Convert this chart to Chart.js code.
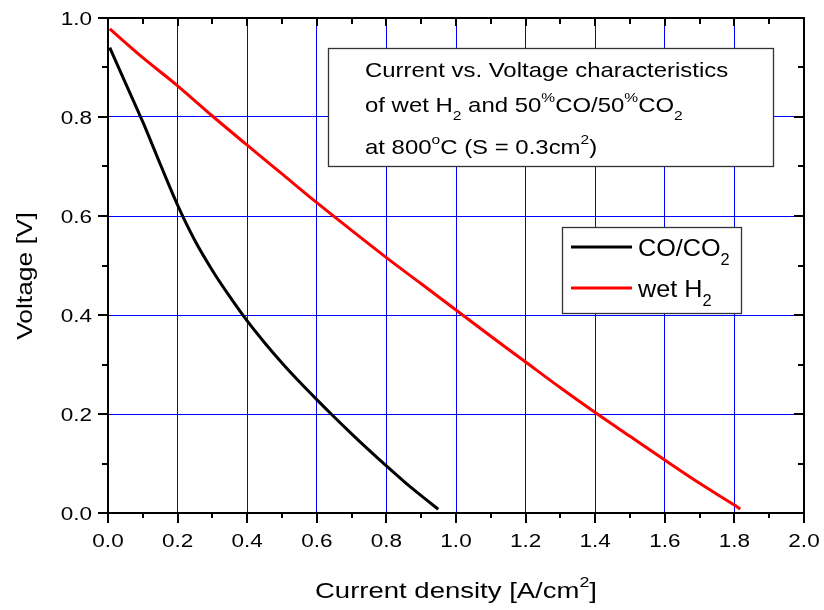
<!DOCTYPE html>
<html>
<head>
<meta charset="utf-8">
<script src="https://cdn.jsdelivr.net/npm/chart.js@4.4.1/dist/chart.umd.min.js"></script>
<style>
  html, body { margin: 0; padding: 0; background: #fff; }
</style>
</head>
<body>
<canvas id="ivChart" width="824" height="610"></canvas>
<script>
// CO/CO2 fuel (black curve)
const currentCO = [0.005, 0.05, 0.1, 0.15, 0.2, 0.25, 0.3, 0.35, 0.4, 0.45, 0.5, 0.55, 0.6, 0.65, 0.7, 0.75, 0.8, 0.85, 0.9, 0.949];
const voltageCO = [0.94, 0.869, 0.79, 0.705, 0.622, 0.55, 0.49, 0.437, 0.388, 0.344, 0.303, 0.265, 0.229, 0.194, 0.16, 0.127, 0.095, 0.064, 0.035, 0.0075];

// wet H2 fuel (red curve)
const currentH2 = [0.005, 0.1, 0.2, 0.3, 0.4, 0.5, 0.6, 0.7, 0.8, 0.9, 1.0, 1.1, 1.2, 1.3, 1.4, 1.5, 1.6, 1.7, 1.8, 1.817];
const voltageH2 = [0.978, 0.92, 0.863, 0.802, 0.743, 0.685, 0.627, 0.571, 0.516, 0.463, 0.41, 0.357, 0.305, 0.253, 0.203, 0.155, 0.107, 0.06, 0.016, 0.008];

const xRange = [0, 2.0];
const yRange = [0, 1.0];
const majorStepX = 0.2, majorStepY = 0.2;

// rich text pieces: [text, kind] where kind is n / sup / sub
const legendLabels = [
    [["CO/CO", "n"], ["2", "sub"]],
    [["wet H", "n"], ["2", "sub"]]
];
const noteLines = [
    [["Current vs. Voltage characteristics", "n"]],
    [["of wet H", "n"], ["2", "sub"], [" and 50", "n"], ["%", "sup"], ["CO/50", "n"], ["%", "sup"], ["CO", "n"], ["2", "sub"]],
    [["at 800", "n"], ["o", "sup"], ["C (S = 0.3cm", "n"], ["2", "sup"], [")", "n"]]
];
const xTitle = [["Current density [A/cm", "n"], ["2", "sup"], ["]", "n"]];
const yTitle = [["Voltage [V]", "n"]];

const FONT = '"Liberation Sans", Arial, sans-serif';

function partFont(kind, size) {
    const s = kind === "n" ? size : size * 0.65;
    return s + "px " + FONT;
}

function partWidth(ctx, parts, size) {
    let w = 0;
    parts.forEach(p => {
        ctx.font = partFont(p[1], size);
        w += ctx.measureText(p[0]).width;
    });
    return w;
}

// draws a line of rich text; x,y is the baseline anchor
function richText(ctx, parts, x, y, size, sx, align, angle) {
    ctx.save();
    ctx.translate(x, y);
    if (angle) ctx.rotate(angle);
    ctx.scale(sx, 1);
    ctx.fillStyle = "#000";
    ctx.textBaseline = "alphabetic";
    ctx.textAlign = "left";
    const w = partWidth(ctx, parts, size);
    let cx = align === "center" ? -w / 2 : align === "right" ? -w : 0;
    parts.forEach(p => {
        ctx.font = partFont(p[1], size);
        let dy = 0;
        if (p[1] === "sup") dy = -size * 0.48;
        if (p[1] === "sub") dy = size * 0.38;
        ctx.fillText(p[0], cx, dy);
        cx += ctx.measureText(p[0]).width;
    });
    ctx.restore();
}

const axisDecor = {
    id: "axisDecor",
    afterDatasetsDraw(chart) {
        const ctx = chart.ctx;
        const a = chart.chartArea;
        const xs = chart.scales.x, ys = chart.scales.y;
        ctx.save();
        ctx.strokeStyle = "#000";
        ctx.lineWidth = 2;
        ctx.strokeRect(a.left, a.top, a.right - a.left, a.bottom - a.top);

        ctx.beginPath();
        for (let i = 0; i <= 20; i++) {
            const v = xRange[0] + i * majorStepX / 2;
            const px = Math.round(xs.getPixelForValue(v));
            const len = i % 2 === 0 ? 10 : 5;
            ctx.moveTo(px, a.bottom); ctx.lineTo(px, a.bottom + len);
            ctx.moveTo(px, a.top); ctx.lineTo(px, a.top + (i % 2 === 0 ? 8 : 6));
        }
        for (let i = 0; i <= 10; i++) {
            const v = yRange[0] + i * majorStepY / 2;
            const py = Math.round(ys.getPixelForValue(v));
            const len = i % 2 === 0 ? 10 : 6;
            ctx.moveTo(a.left, py); ctx.lineTo(a.left - len, py);
            ctx.moveTo(a.right, py); ctx.lineTo(a.right - len, py);
        }
        ctx.stroke();
        ctx.restore();

        // tick labels from the scales
        xs.ticks.forEach(t => {
            richText(ctx, [[t.value.toFixed(1), "n"]], xs.getPixelForValue(t.value), 547, 18, 1.25, "center");
        });
        ys.ticks.forEach(t => {
            richText(ctx, [[t.value.toFixed(1), "n"]], 92, ys.getPixelForValue(t.value) + 6.5, 18, 1.25, "right");
        });

        richText(ctx, xTitle, 456, 598, 22, 1.25, "center");
        richText(ctx, yTitle, 32, 276, 22, 1.2, "center", -Math.PI / 2);
    },
    afterDraw(chart) {
        const ctx = chart.ctx;
        ctx.save();
        // note box
        ctx.fillStyle = "#fff";
        ctx.fillRect(328, 48, 445, 118);
        ctx.strokeStyle = "#333";
        ctx.lineWidth = 1.3;
        ctx.strokeRect(328.5, 48.5, 445, 118);
        // legend box
        ctx.fillRect(562, 227, 179, 86);
        ctx.strokeRect(562.5, 227.5, 179, 86);
        ctx.restore();

        const baselines = [77, 112, 154];
        noteLines.forEach((line, i) => richText(ctx, line, 365, baselines[i], 21, 1.14, "left"));

        const rowY = [247, 288];
        chart.data.datasets.forEach((ds, i) => {
            ctx.save();
            ctx.strokeStyle = ds.borderColor;
            ctx.lineWidth = 3;
            ctx.beginPath();
            ctx.moveTo(571, rowY[i]);
            ctx.lineTo(632, rowY[i]);
            ctx.stroke();
            ctx.restore();
            richText(ctx, legendLabels[i], 638, rowY[i] + 9, 24, 1.05, "left");
        });
    }
};

const toPoints = (xs, ys) => xs.map((x, i) => ({ x: x, y: ys[i] }));

const ctx = document.getElementById("ivChart").getContext("2d");
const chart = new Chart(ctx, {
    type: "line",
    data: {
        datasets: [
            {
                label: "CO/CO2",
                data: toPoints(currentCO, voltageCO),
                borderColor: "#000000",
                borderWidth: 3,
                pointRadius: 0,
                cubicInterpolationMode: "monotone",
                fill: false
            },
            {
                label: "wet H2",
                data: toPoints(currentH2, voltageH2),
                borderColor: "#ff0000",
                borderWidth: 3,
                pointRadius: 0,
                cubicInterpolationMode: "monotone",
                fill: false
            }
        ]
    },
    options: {
        responsive: false,
        animation: false,
        devicePixelRatio: 1,
        layout: { padding: { top: 18, right: 20, left: 0, bottom: 0 } },
        plugins: {
            legend: { display: false },
            tooltip: { enabled: false }
        },
        scales: {
            x: {
                type: "linear",
                min: xRange[0],
                max: xRange[1],
                ticks: { stepSize: majorStepX, display: false },
                grid: {
                    color: c => (c.tick && c.tick.value > xRange[0] && c.tick.value < xRange[1]) ? "#0000ff" : "rgba(0,0,0,0)",
                    lineWidth: 1,
                    drawTicks: false
                },
                border: { display: false },
                afterFit: s => { s.height = 97; }
            },
            y: {
                type: "linear",
                min: yRange[0],
                max: yRange[1],
                ticks: { stepSize: majorStepY, display: false },
                grid: {
                    color: c => (c.tick && c.tick.value > yRange[0] && c.tick.value < yRange[1]) ? "#0000ff" : "rgba(0,0,0,0)",
                    lineWidth: 1,
                    drawTicks: false
                },
                border: { display: false },
                afterFit: s => { s.width = 108; }
            }
        }
    },
    plugins: [axisDecor]
});
</script>
</body>
</html>
